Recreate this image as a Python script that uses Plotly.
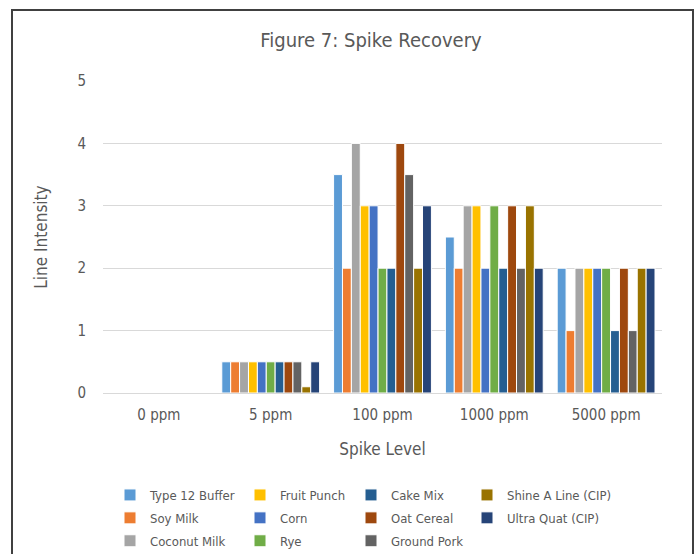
import plotly.graph_objects as go

categories = ["0 ppm", "5 ppm", "100 ppm", "1000 ppm", "5000 ppm"]

series_names = ["Type 12 Buffer", "Soy Milk", "Coconut Milk", "Fruit Punch", "Corn", "Rye",
                "Cake Mix", "Oat Cereal", "Ground Pork", "Shine A Line (CIP)", "Ultra Quat (CIP)"]

type12_buffer = [0, 0.5, 3.5, 2.5, 2]
soy_milk = [0, 0.5, 2, 2, 1]
coconut_milk = [0, 0.5, 4, 3, 2]
fruit_punch = [0, 0.5, 3, 3, 2]
corn = [0, 0.5, 3, 2, 2]
rye = [0, 0.5, 2, 3, 2]
cake_mix = [0, 0.5, 2, 2, 1]
oat_cereal = [0, 0.5, 4, 3, 2]
ground_pork = [0, 0.5, 3.5, 2, 1]
shine_a_line = [0, 0.1, 2, 3, 2]
ultra_quat = [0, 0.5, 3, 2, 2]

series_values = [type12_buffer, soy_milk, coconut_milk, fruit_punch, corn, rye,
                 cake_mix, oat_cereal, ground_pork, shine_a_line, ultra_quat]

colors = ["#5B9BD5", "#ED7D31", "#A5A5A5", "#FFC000", "#4472C4", "#70AD47",
          "#255E91", "#9E480E", "#636363", "#997300", "#264478"]

# legend column assignment (column-major layout as in reference)
legend_ids = ["legend", "legend", "legend", "legend2", "legend2", "legend2",
              "legend3", "legend3", "legend3", "legend4", "legend4"]

FONT = "DejaVu Sans Condensed, Roboto, Arial, sans-serif"
GREY = "#595959"

# plot-area geometry in pixels
L, R, T, B = 103, 698 - 662, 81, 554 - 393
PW, PH = 698 - L - R, 554 - T - B

def px_x(p):
    return (p - L) / PW

def px_y(p):
    return (393 - p) / PH

fig = go.Figure()
for name, vals, col, lg in zip(series_names, series_values, colors, legend_ids):
    fig.add_trace(go.Bar(
        name=name, x=categories, y=vals, legendgroup=name,
        marker=dict(color=col, line=dict(color="white", width=1)),
        legend=lg,
    ))

leg_common = dict(orientation="v", yanchor="top", xanchor="left",
                  font=dict(family=FONT, size=13, color=GREY),
                  bgcolor="rgba(0,0,0,0)", itemwidth=30, tracegroupgap=3)

legend_text_x = [151, 281, 392, 508]
ly = px_y(480)

fig.update_layout(
    width=698, height=554,
    margin=dict(l=L, r=R, t=T, b=B, autoexpand=False),
    paper_bgcolor="white", plot_bgcolor="white",
    barmode="group", bargap=0.125, bargroupgap=0,
    title=dict(text="Figure 7: Spike Recovery", x=371 / 698, xanchor="center",
               y=1 - 40 / 554, yanchor="middle",
               font=dict(family=FONT, size=20, color=GREY)),
    font=dict(family=FONT, color=GREY),
    xaxis=dict(
        title=dict(text="Spike Level", font=dict(family=FONT, size=17, color=GREY), standoff=20),
        tickfont=dict(family=FONT, size=15, color=GREY),
        showgrid=False, showline=True, linecolor="#D9D9D9", linewidth=1,
        ticks="", ticklabelstandoff=8, automargin=False,
    ),
    yaxis=dict(
        title=dict(text="Line Intensity", font=dict(family=FONT, size=17, color=GREY), standoff=25),
        tickfont=dict(family=FONT, size=15, color=GREY),
        range=[0, 5], dtick=1, tick0=0,
        showgrid=True, gridcolor="#D9D9D9", gridwidth=1,
        zeroline=False, showline=False, ticks="", ticklabelstandoff=16, automargin=False,
    ),
    legend=dict(x=px_x(legend_text_x[0] - 41), y=ly, **leg_common),
    legend2=dict(x=px_x(legend_text_x[1] - 41), y=ly, **leg_common),
    legend3=dict(x=px_x(legend_text_x[2] - 41), y=ly, **leg_common),
    legend4=dict(x=px_x(legend_text_x[3] - 41), y=ly, **leg_common),
    shapes=[dict(type="rect", xref="paper", yref="paper",
                 x0=px_x(12), x1=px_x(693), y0=px_y(570), y1=px_y(10),
                 line=dict(color="#404040", width=2), fillcolor="rgba(0,0,0,0)", layer="below")],
)

fig.write_html("out.html")
